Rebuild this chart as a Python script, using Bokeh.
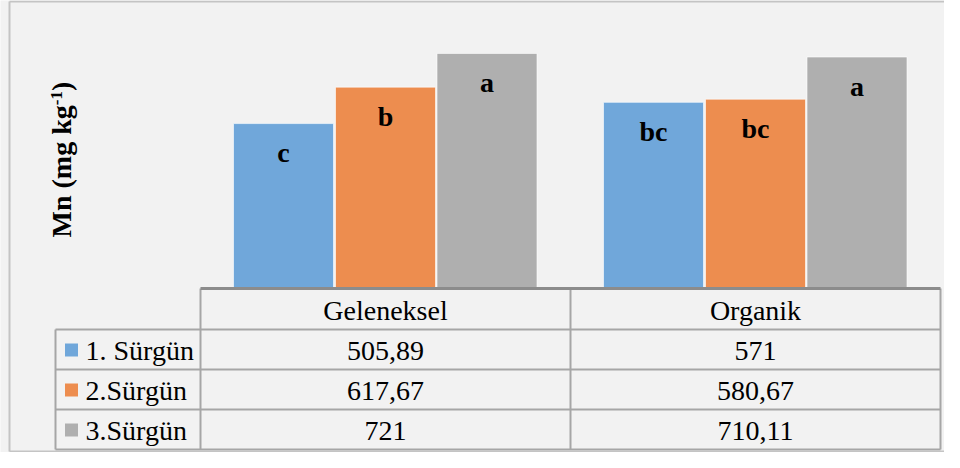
import numpy as np
from bokeh.plotting import figure
from bokeh.models import ColumnDataSource, Range1d
from bokeh.core.properties import value
from bokeh.embed import file_html
from bokeh.resources import INLINE

# ---------------- data ----------------
categories = ["Geleneksel", "Organik"]
series_names = ["1. Sürgün", "2.Sürgün", "3.Sürgün"]
surgun1 = [505.89, 571.0]
surgun2 = [617.67, 580.67]
surgun3 = [721.0, 710.11]
letters1 = ["c", "bc"]
letters2 = ["b", "bc"]
letters3 = ["a", "a"]
colors = ["#70A7DA", "#ED8D4F", "#AFAFAF"]

series_values = [surgun1, surgun2, surgun3]
series_letters = [letters1, letters2, letters3]


def fmt(v):
    s = f"{v:.2f}".rstrip("0").rstrip(".")
    return s.replace(".", ",")


# ---------------- layout constants (pixels) ----------------
W, H = 944, 452
CAT_PX = 370.0      # width of one category column
X0_PX = 200.0       # left edge of first category
BASE_PX = 288.0     # bar baseline
PX_PER_UNIT = 0.326
FONT = value("Liberation Serif")
BG = "#F2F2F2"
GRID = "#A6A6A6"
FS = 28
BL = 0.32 * FS      # baseline correction of the svg text renderer

p = figure(width=W, height=H, output_backend="svg", toolbar_location=None,
           x_range=Range1d(-X0_PX / CAT_PX, (W - X0_PX) / CAT_PX),
           y_range=Range1d((BASE_PX - H) / PX_PER_UNIT, BASE_PX / PX_PER_UNIT),
           x_axis_type=None, y_axis_type=None, min_border=0,
           background_fill_color=BG, border_fill_color=BG)
p.outline_line_color = None
p.extra_x_ranges = {"px": Range1d(0, W)}
p.extra_y_ranges = {"px": Range1d(H, 0)}

# ---------------- bars ----------------
offsets = [-102 / CAT_PX, 0.0, 101.5 / CAT_PX]
bar_w = 100 / CAT_PX
for k in range(3):
    src = ColumnDataSource(dict(
        x=[i + 0.5 + offsets[k] for i in range(len(categories))],
        top=series_values[k],
        letter=series_letters[k],
    ))
    p.vbar(x="x", top="top", bottom=0, width=bar_w, source=src,
           fill_color=colors[k], line_color="white", line_alpha=0.6, line_width=1)
    p.text(x="x", y="top", text="letter", source=src, text_align="center",
           text_baseline="alphabetic", y_offset=38 - BL, text_font=FONT,
           text_font_style="bold", text_font_size=f"{FS}px", text_color="black")

# ---------------- data table ----------------
row_tops = [288, 329, 369, 409]
row_bottom = 449
table_left = 55
table_right = 940

# horizontal grid lines
p.segment(x0=[table_left] * 4, x1=[table_right] * 4,
          y0=row_tops[1:] + [row_bottom], y1=row_tops[1:] + [row_bottom],
          x_range_name="px", y_range_name="px", line_color=GRID, line_width=2)
# vertical category boundaries (in category units)
ncat = len(categories)
p.segment(x0=list(range(ncat + 1)), x1=list(range(ncat + 1)),
          y0=[row_tops[0]] * (ncat + 1), y1=[row_bottom] * (ncat + 1),
          y_range_name="px", line_color=GRID, line_width=2)
# left legend column border
p.segment(x0=[table_left], x1=[table_left], y0=[row_tops[1]], y1=[row_bottom],
          x_range_name="px", y_range_name="px", line_color=GRID, line_width=2)
# axis line (bar baseline)
p.segment(x0=[0], x1=[ncat], y0=[0], y1=[0], line_color="#8C8C8C", line_width=3)

# header
p.text(x=[i + 0.5 for i in range(ncat)], y=[row_tops[0] + 31 - BL] * ncat,
       text=categories, y_range_name="px", text_align="center",
       text_baseline="alphabetic", text_font=FONT, text_font_size=f"{FS}px",
       text_color="black")
# values
for k in range(3):
    p.text(x=[i + 0.5 for i in range(ncat)], y=[row_tops[k + 1] + 30 - BL] * ncat,
           text=[fmt(v) for v in series_values[k]],
           y_range_name="px", text_align="center", text_baseline="alphabetic",
           text_font=FONT, text_font_size=f"{FS}px", text_color="black")
# legend keys + names
p.rect(x=[71] * 3, y=[t + 20.5 for t in row_tops[1:]], width=13, height=13,
       fill_color=colors, line_color=None, x_range_name="px", y_range_name="px")
p.text(x=[85] * 3, y=[t + 30 - BL for t in row_tops[1:]], text=series_names,
       x_range_name="px", y_range_name="px", text_align="left",
       text_baseline="alphabetic", text_font=FONT, text_font_size=f"{FS}px",
       text_color="black")

# ---------------- y axis title (rotated, with superscript) ----------------
main_fs, sup_fs = 28, 17
lab_x, lab_y = 70, 237
main_len = 4.722 * main_fs
sup_len = 0.833 * sup_fs
p.text(x=[lab_x - 0.32 * main_fs], y=[lab_y], text=["Mn (mg kg"], angle=np.pi / 2,
       x_range_name="px", y_range_name="px", text_align="left",
       text_baseline="alphabetic", text_font=FONT, text_font_style="bold",
       text_font_size=f"{main_fs}px", text_color="black")
p.text(x=[lab_x - 9 - 0.32 * sup_fs], y=[lab_y - main_len], text=["-1"],
       angle=np.pi / 2, x_range_name="px", y_range_name="px", text_align="left",
       text_baseline="alphabetic", text_font=FONT, text_font_style="bold",
       text_font_size=f"{sup_fs}px", text_color="black")
p.text(x=[lab_x - 0.32 * main_fs], y=[lab_y - main_len - sup_len], text=[")"],
       angle=np.pi / 2, x_range_name="px", y_range_name="px", text_align="left",
       text_baseline="alphabetic", text_font=FONT, text_font_style="bold",
       text_font_size=f"{main_fs}px", text_color="black")

# ---------------- outer border (left, top, bottom) ----------------
p.segment(x0=[9, 9, 9], x1=[9, W, W], y0=[1, 1, 451], y1=[451, 1, 451],
          x_range_name="px", y_range_name="px", line_color="#C4C4C4", line_width=2)

open("out.html", "w").write(file_html(p, INLINE))
